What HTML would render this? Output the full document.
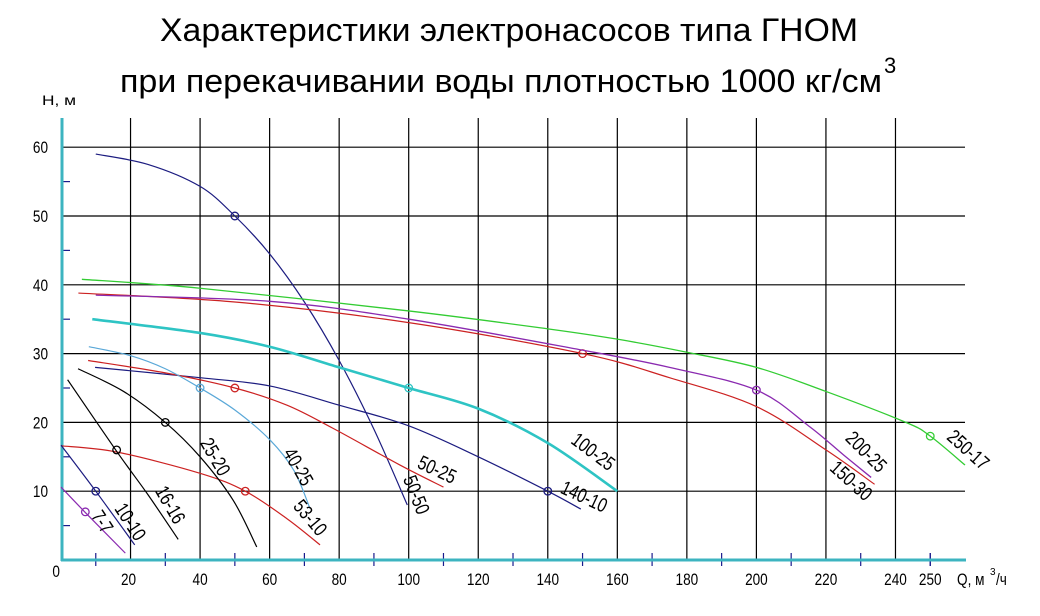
<!DOCTYPE html>
<html><head><meta charset="utf-8"><style>
html,body{margin:0;padding:0;background:#fff;}
svg{display:block;font-family:"Liberation Sans",sans-serif;}
</style></head><body>
<svg id="s" width="1040" height="616" viewBox="0 0 1040 616" xmlns="http://www.w3.org/2000/svg">
<rect width="1040" height="616" fill="#fff"/>
<text x="509" y="41" font-size="32" text-anchor="middle" textLength="698" lengthAdjust="spacingAndGlyphs">Характеристики электронасосов типа ГНОМ</text>
<text x="120" y="92" font-size="32" textLength="762" lengthAdjust="spacingAndGlyphs">при перекачивании воды плотностью 1000 кг/см</text>
<text x="884" y="73" font-size="22">3</text>
<text x="42" y="105" font-size="14" textLength="34" lengthAdjust="spacingAndGlyphs">Н, м</text>
<g id="grid" stroke="#000" stroke-width="1.2"></g>
<g id="axes"></g>
<g id="curves" fill="none"></g>
<g id="labels" font-size="19"></g>
</svg>
<script>
var NS="http://www.w3.org/2000/svg";
function X(q){return 61+q*3.477;}
function Y(h){return 560-h*6.88;}
function el(p,tag,a,txt){var e=document.createElementNS(NS,tag);for(var k in a)e.setAttribute(k,a[k]);if(txt)e.textContent=txt;p.appendChild(e);return e;}
var g=document.getElementById('grid'),ax=document.getElementById('axes');
for(var h=10;h<=60;h+=10)el(g,'line',{x1:62,x2:965,y1:Y(h),y2:Y(h)});
for(var q=20;q<=240;q+=20)el(g,'line',{x1:X(q),x2:X(q),y1:118,y2:560});
for(var h=5;h<=55;h+=10)el(ax,'line',{x1:62,x2:70,y1:Y(h),y2:Y(h),stroke:'#1a1a8c','stroke-width':1.2});
for(var q=10;q<=250;q+=20)el(ax,'line',{x1:X(q),x2:X(q),y1:553,y2:566,stroke:'#1a1a8c','stroke-width':1.2});
el(ax,'line',{x1:X(250),x2:X(250),y1:553,y2:566,stroke:'#1a1a8c','stroke-width':1.2});
el(ax,'line',{x1:62,x2:62,y1:118,y2:561,stroke:'#3cb4c0','stroke-width':3});
el(ax,'line',{x1:61,x2:966,y1:560,y2:560,stroke:'#3cb4c0','stroke-width':3});
function sx(p,x,y,txt,anchor,fs){el(p,'text',{x:0,y:0,'font-size':fs||16,'text-anchor':anchor||'middle',transform:'translate('+x+' '+y+') scale(0.85 1.05)'},txt);}
for(var h=10;h<=60;h+=10)sx(ax,48,Y(h)+6,''+h,'end');
sx(ax,60,577,'0','end');
[20,40,60,80,100,120,140,160,180,200,220,240,250].forEach(function(q){sx(ax,X(q)-(q==20?2:0),585,''+q);});
sx(ax,957,585,'Q, м','start');
el(ax,'text',{x:990,y:575,'font-size':10},'3');
sx(ax,996,585,'/ч','start');
function path(pts){var p=pts.map(function(a){return [X(a[0]),Y(a[1])];});var d='M'+p[0][0]+','+p[0][1];
for(var i=0;i<p.length-1;i++){var p0=p[i-1]||p[i],p1=p[i],p2=p[i+1],p3=p[i+2]||p2;
d+=' C'+(p1[0]+(p2[0]-p0[0])/6)+','+(p1[1]+(p2[1]-p0[1])/6)+' '+(p2[0]-(p3[0]-p1[0])/6)+','+(p2[1]-(p3[1]-p1[1])/6)+' '+p2[0]+','+p2[1];}return d;}
var C=[
['#1c1c80',1.2,[[10,59],[25,57.5],[40,54.3],[50,50],[60,44.5],[70,37.5],[80,29],[90,19],[99.6,8]],[50,50]],
['#33cc33',1.3,[[6,40.8],[40,39.5],[100,36.2],[140,33.6],[160,32.1],[180,30.2],[200,28],[220,24.5],[243,20],[250,18],[260,13.8]],[250,18]],
['#cc2222',1.2,[[5,38.8],[50,37.5],[100,34.5],[150,30],[175,26.5],[200,22.3],[220,16],[234,11]],[150,30]],
['#8a2ab0',1.3,[[10,38.5],[60,37.6],[100,35],[150,30.5],[175,28],[200,24.7],[215,19.5],[225,15.3],[233,12]],[200,24.7]],
['#2ec4c4',2.6,[[9,35],[40,33],[60,31],[80,28],[100,25],[120,22],[140,17],[160,10]],[100,25]],
['#1c1c80',1.2,[[9.8,28],[40,26.5],[60,25.3],[80,22.5],[100,19.5],[120,15],[140,10],[149.5,7.4]],[140,10]],
['#cc2222',1.2,[[7.8,29],[30,27.2],[50,25],[65,22.5],[78,19.2],[97.5,13.8],[110,10.6]],[50,25]],
['#cc2222',1.2,[[0,16.6],[16,15.7],[40,12.6],[53,10],[65,6],[74.5,2.2]],[53,10]],
['#5aa8d8',1.2,[[8,31],[20,29.7],[30,27.8],[40,25],[50,21.8],[60,17.5],[67,13],[71.6,7.5]],[40,25]],
['#000',1.2,[[4.9,27.8],[18,24.5],[30,20],[40,15],[49.5,8.7],[56.3,1.9]],[30,20]],
['#000',1.2,[[1.9,26.2],[16,15.8],[25,9.5],[33.7,3]],[16,16]],
['#1c1c80',1.2,[[0,16.7],[10,10],[21.2,2.2]],[10,10]],
['#8a2ab0',1.2,[[0,10.6],[7,6.9],[18.5,1]],[7,7]]
];
var cg=document.getElementById('curves');
C.forEach(function(c){el(cg,'path',{d:path(c[2]),stroke:c[0],'stroke-width':c[1]});
el(cg,'circle',{cx:X(c[3][0]),cy:Y(c[3][1]),r:3.8,stroke:c[0],'stroke-width':1.3,fill:'none'});});
var L=[['50-50',416,495,68],['100-25',593,452,37],['140-10',584,497,25],['50-25',437,470,25],['53-10',310,518,50],
['40-25',298,467,60],['25-20',215,457,60],['16-16',170,505,60],['10-10',130,522,57],['7-7',102,522,57],
['200-25',866,452,45],['150-30',851,481,42],['250-17',968,450,42]];
var lg=document.getElementById('labels');
L.forEach(function(l){el(lg,'text',{x:0,y:6,'text-anchor':'middle',transform:'translate('+l[1]+' '+l[2]+') rotate('+l[3]+') scale(0.82 1.05)'},l[0]);});
</script>
</body></html>
